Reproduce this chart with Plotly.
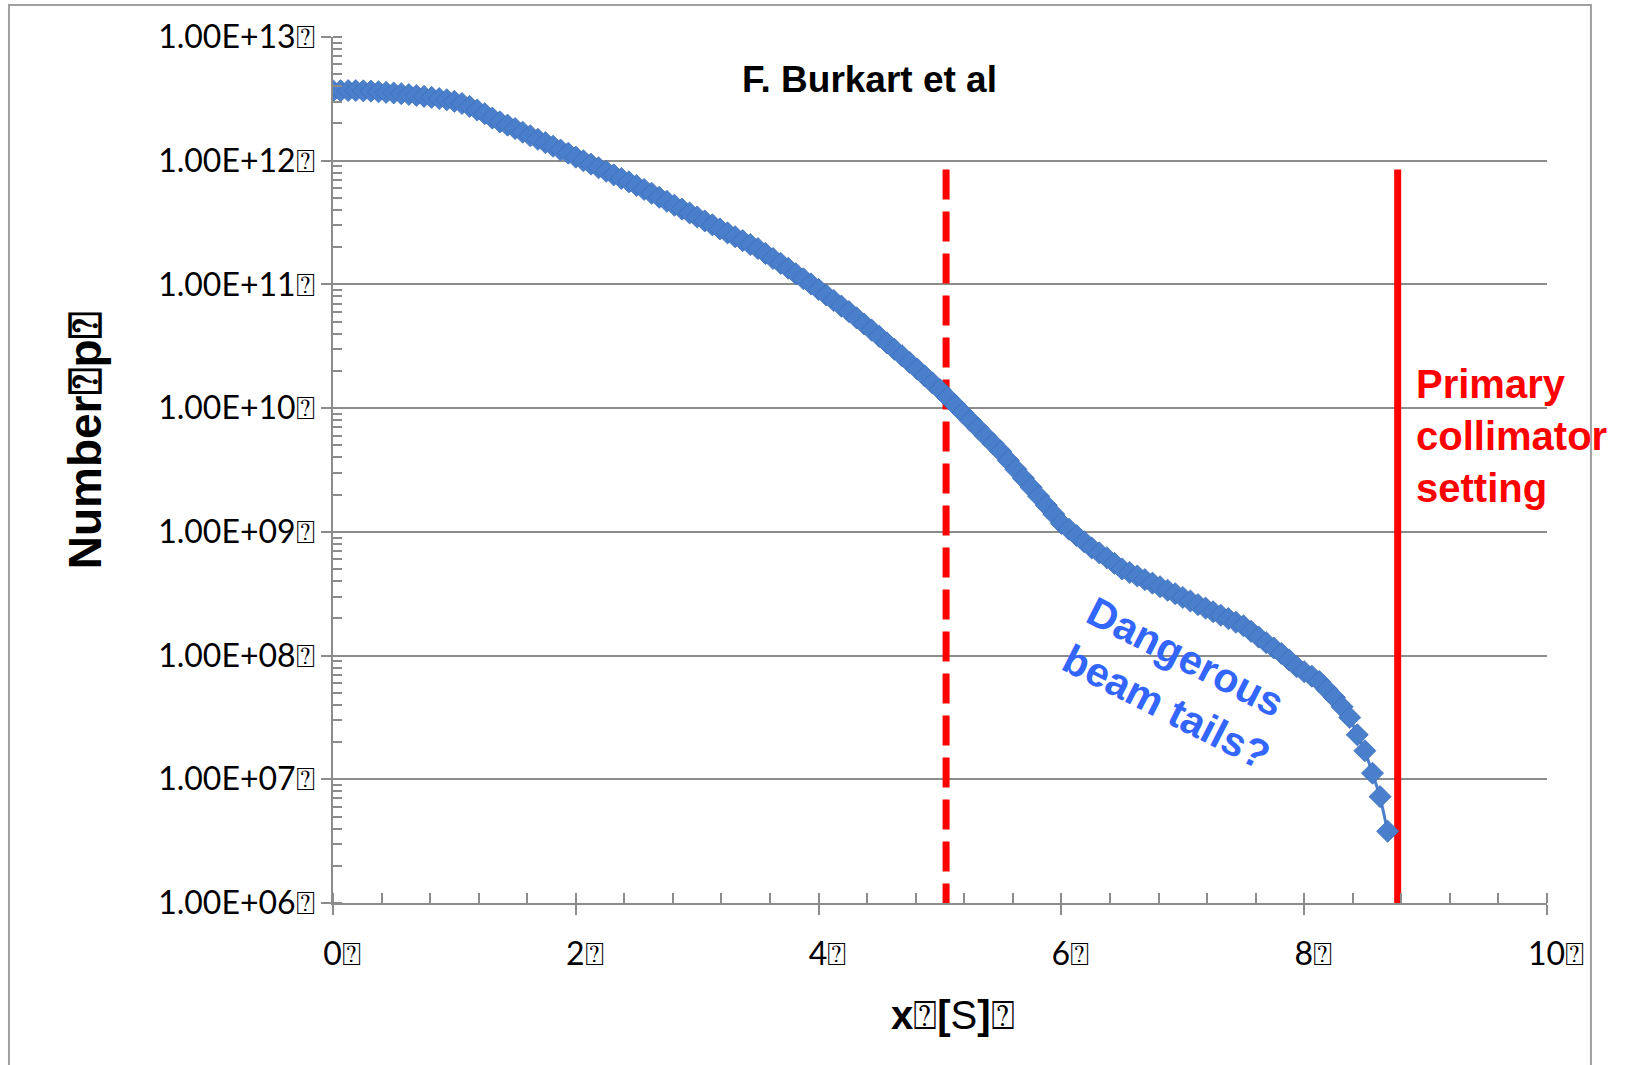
import plotly.graph_objects as go

# ---- data ----
sigma = [0.0, 0.0625, 0.125, 0.1875, 0.25, 0.3125, 0.375, 0.4375, 0.5, 0.5625,
         0.625, 0.6875, 0.75, 0.8125, 0.875, 0.9375, 1.0, 1.0625, 1.125, 1.1875,
         1.25, 1.3125, 1.375, 1.4375, 1.5, 1.5625, 1.625, 1.6875, 1.75, 1.8125,
         1.875, 1.9375, 2.0, 2.0625, 2.125, 2.1875, 2.25, 2.3125, 2.375, 2.4375,
         2.5, 2.5625, 2.625, 2.6875, 2.75, 2.8125, 2.875, 2.9375, 3.0, 3.0625,
         3.125, 3.1875, 3.25, 3.3125, 3.375, 3.4375, 3.5, 3.5625, 3.625, 3.6875,
         3.75, 3.8125, 3.875, 3.9375, 4.0, 4.0625, 4.125, 4.1875, 4.25, 4.3125,
         4.375, 4.4375, 4.5, 4.5625, 4.625, 4.6875, 4.75, 4.8125, 4.875, 4.9375,
         5.0, 5.0625, 5.125, 5.1875, 5.25, 5.3125, 5.375, 5.4375, 5.5, 5.5625,
         5.625, 5.6875, 5.75, 5.8125, 5.875, 5.9375, 6.0, 6.0625, 6.125, 6.1875,
         6.25, 6.3125, 6.375, 6.4375, 6.5, 6.5625, 6.625, 6.6875, 6.75, 6.8125,
         6.875, 6.9375, 7.0, 7.0625, 7.125, 7.1875, 7.25, 7.3125, 7.375, 7.4375,
         7.5, 7.5625, 7.625, 7.6875, 7.75, 7.8125, 7.875, 7.9375, 8.0, 8.0625,
         8.125, 8.1875, 8.25, 8.3125, 8.375, 8.4375, 8.5, 8.5625, 8.625, 8.6875]

number_p = [3.67e12, 3.68e12, 3.69e12, 3.69e12, 3.67e12, 3.65e12, 3.61e12, 3.57e12, 3.53e12, 3.48e12,
            3.43e12, 3.37e12, 3.31e12, 3.25e12, 3.18e12, 3.11e12, 3.02e12, 2.90e12, 2.75e12, 2.57e12,
            2.40e12, 2.21e12, 2.06e12, 1.94e12, 1.82e12, 1.70e12, 1.59e12, 1.49e12, 1.40e12, 1.31e12,
            1.22e12, 1.15e12, 1.07e12, 1.00e12, 9.38e11, 8.77e11, 8.22e11, 7.69e11, 7.19e11, 6.75e11,
            6.31e11, 5.86e11, 5.45e11, 5.06e11, 4.70e11, 4.37e11, 4.06e11, 3.78e11, 3.51e11, 3.26e11,
            3.03e11, 2.81e11, 2.61e11, 2.43e11, 2.26e11, 2.10e11, 1.95e11, 1.78e11, 1.62e11, 1.48e11,
            1.35e11, 1.22e11, 1.11e11, 1.01e11, 9.12e10, 8.22e10, 7.41e10, 6.68e10, 6.03e10, 5.37e10,
            4.79e10, 4.27e10, 3.80e10, 3.37e10, 2.99e10, 2.65e10, 2.34e10, 2.07e10, 1.82e10, 1.60e10,
            1.41e10, 1.22e10, 1.06e10, 9.18e9, 7.94e9, 6.89e9, 5.96e9, 5.16e9, 4.47e9, 3.78e9,
            3.20e9, 2.71e9, 2.29e9, 1.94e9, 1.64e9, 1.39e9, 1.17e9, 1.05e9, 9.33e8, 8.32e8,
            7.41e8, 6.76e8, 6.17e8, 5.56e8, 5.01e8, 4.69e8, 4.40e8, 4.11e8, 3.85e8, 3.60e8,
            3.37e8, 3.16e8, 2.95e8, 2.76e8, 2.58e8, 2.42e8, 2.26e8, 2.12e8, 1.99e8, 1.86e8,
            1.74e8, 1.57e8, 1.41e8, 1.27e8, 1.15e8, 1.04e8, 9.23e7, 8.13e7, 7.41e7, 6.81e7,
            6.17e7, 5.31e7, 4.57e7, 3.85e7, 3.16e7, 2.29e7, 1.70e7, 1.12e7, 7.24e6, 3.80e6]

x_tick_vals = [0, 2, 4, 6, 8, 10]
x_tick_text = ["0⍰", "2⍰", "4⍰", "6⍰", "8⍰", "10⍰"]
y_tick_vals = [1e6, 1e7, 1e8, 1e9, 1e10, 1e11, 1e12, 1e13]
y_tick_text = ["1.00E+06⍰", "1.00E+07⍰", "1.00E+08⍰", "1.00E+09⍰",
               "1.00E+10⍰", "1.00E+11⍰", "1.00E+12⍰", "1.00E+13⍰"]

dashed_line_x = [5.05, 5.05]
collimator_x = [8.77, 8.77]
marker_line_y = [8.5e11, 1e6]

x_title = "<b>x</b>⍰<b>[</b>S<b>]</b>⍰"
y_title = "<b>Number⍰p⍰</b>"

BLUE = "#4A7FCB"
RED = "#FF0000"
GRID = "#8C8C8C"
TICKFONT = "Lato, 'DejaVu Sans', sans-serif"
BOLDFONT = "'Liberation Sans', Arial, sans-serif"

fig = go.Figure()

fig.add_trace(go.Scatter(x=dashed_line_x, y=marker_line_y, mode="lines",
                         line=dict(color=RED, width=7, dash="30px,12px"),
                         showlegend=False, hoverinfo="skip"))
fig.add_trace(go.Scatter(x=collimator_x, y=marker_line_y, mode="lines",
                         line=dict(color=RED, width=7),
                         showlegend=False, hoverinfo="skip"))
fig.add_trace(go.Scatter(x=sigma, y=number_p, mode="lines+markers",
                         line=dict(color=BLUE, width=3),
                         marker=dict(symbol="diamond", size=17, color=BLUE,
                                     line=dict(color="#3E70BA", width=0.8)),
                         showlegend=False))

fig.update_xaxes(range=[0, 10], tickvals=x_tick_vals, ticktext=x_tick_text,
                 showgrid=False, zeroline=False,
                 showline=True, linecolor=GRID, linewidth=2,
                 ticks="outside", ticklen=10, tickwidth=2, tickcolor=GRID,
                 minor=dict(ticks="inside", ticklen=10, tickwidth=2, tickcolor=GRID, dtick=0.4),
                 tickfont=dict(family=TICKFONT, size=32, color="black"),
                 ticklabelstandoff=12, ticklabelshift=9)

fig.update_yaxes(type="log", range=[6, 13], tickvals=y_tick_vals, ticktext=y_tick_text,
                 showgrid=True, gridcolor=GRID, gridwidth=1.5,
                 showline=True, linecolor=GRID, linewidth=2,
                 ticks="outside", ticklen=10, tickwidth=2, tickcolor=GRID,
                 minor=dict(ticks="inside", ticklen=9, tickwidth=1.5, tickcolor=GRID, dtick="D1", showgrid=False),
                 tickfont=dict(family=TICKFONT, size=32, color="black"))

# axis titles
fig.add_annotation(xref="paper", yref="paper", x=0.5107, y=-0.1293, showarrow=False,
                   xanchor="center", yanchor="middle", text=x_title,
                   font=dict(family=BOLDFONT, size=40, color="black"))
fig.add_annotation(xref="paper", yref="paper", x=-0.2043, y=0.383, showarrow=False,
                   xanchor="center", yanchor="bottom", textangle=-90, text=y_title,
                   font=dict(family=BOLDFONT, size=46, color="black"))

fig.add_annotation(xref="paper", yref="paper", x=0.442, y=0.9515, showarrow=False,
                   xanchor="center", yanchor="middle",
                   text="<b>F. Burkart et al</b>",
                   font=dict(family=BOLDFONT, size=37, color="black"))
fig.add_annotation(xref="paper", yref="paper", x=0.8905, y=0.539, showarrow=False,
                   xanchor="left", yanchor="middle", align="left",
                   text="<b>Primary<br>collimator<br>setting</b>",
                   font=dict(family=BOLDFONT, size=40, color=RED))
fig.add_annotation(xref="paper", yref="paper", x=0.697, y=0.254, showarrow=False,
                   xanchor="center", yanchor="middle", align="left", textangle=27,
                   text="<b>Dangerous<br>beam tails?</b>",
                   font=dict(family=BOLDFONT, size=41, color="#3366FF"))

fig.add_shape(type="rect", xref="paper", yref="paper",
              x0=-0.2669, x1=1.0362, y0=-0.3, y1=1.037,
              line=dict(color="#A0A0A0", width=2), fillcolor="rgba(0,0,0,0)", layer="below")

fig.update_layout(width=1628, height=1065,
                  margin=dict(l=333, r=81, t=37, b=162),
                  plot_bgcolor="white", paper_bgcolor="white")

fig.write_html("out.html")
